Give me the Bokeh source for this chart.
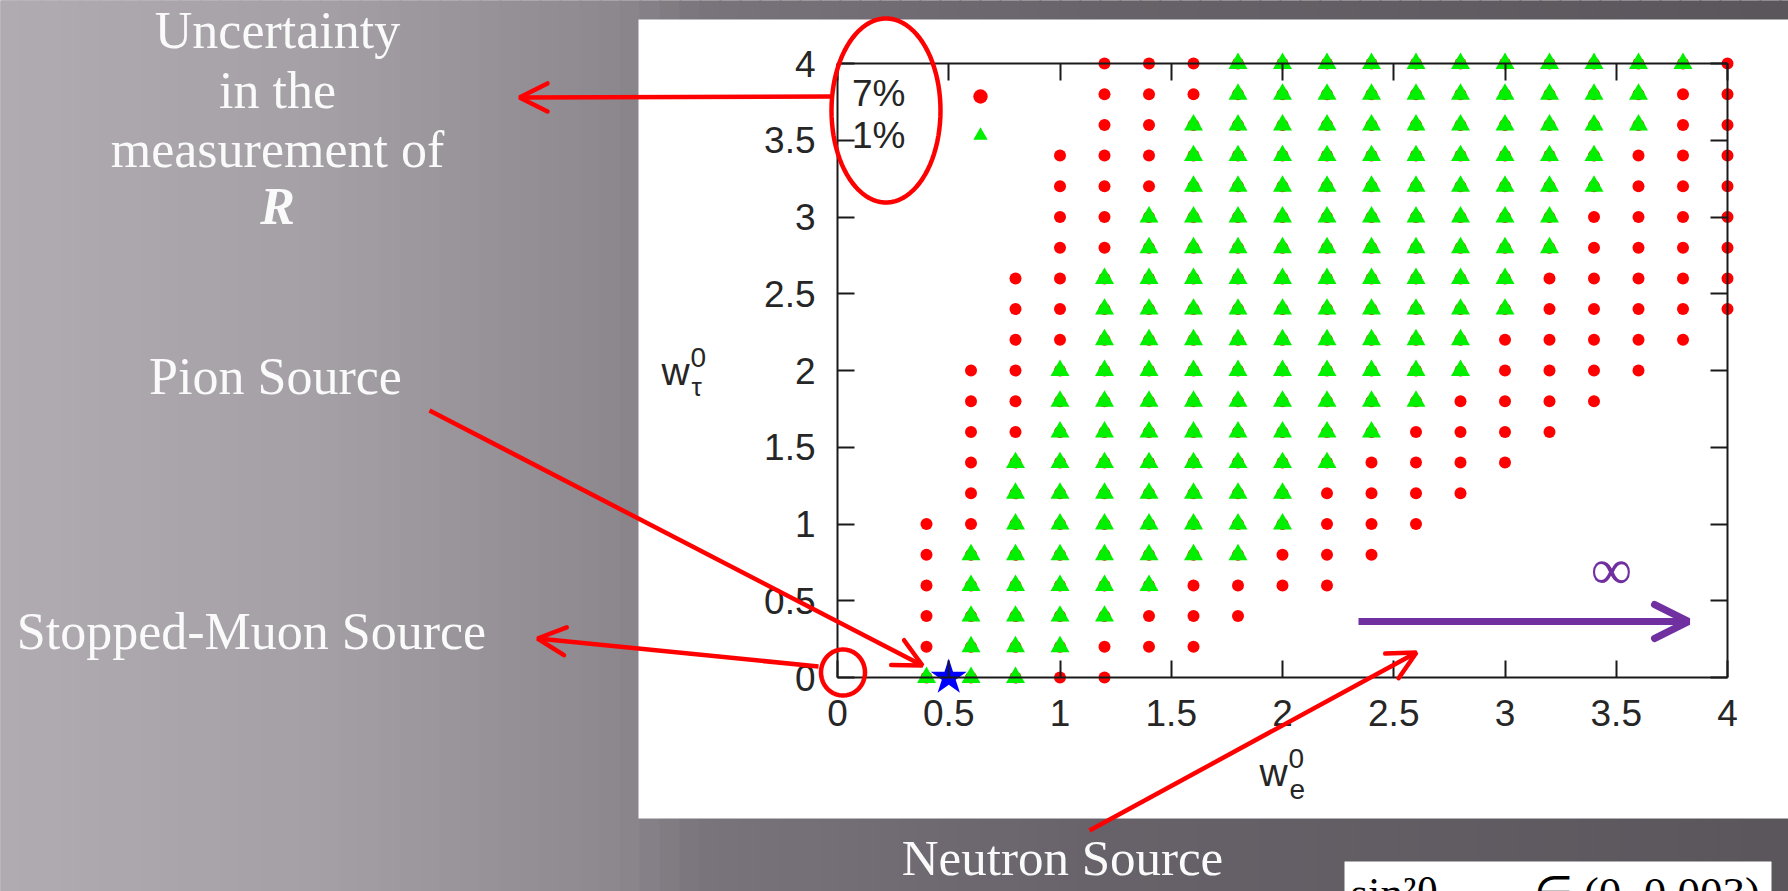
import numpy as np
from bokeh.plotting import figure
from bokeh.models import (Range1d, LinearAxis, FixedTicker, Label, Arrow, OpenHead,
                          BoxAnnotation, PolyAnnotation, Legend, LegendItem)
from bokeh.embed import file_html
from bokeh.resources import INLINE

# ---------------- data ----------------
# grid scan in (w_e^0, w_tau^0), step 0.2; per row of w_tau^0 the span of
# allowed points at 7% (red) and at 1% (green) uncertainty
grid_step = 0.2
w_tau_rows = [4.0, 3.8, 3.6, 3.4, 3.2, 3.0, 2.8, 2.6, 2.4, 2.2, 2.0,
              1.8, 1.6, 1.4, 1.2, 1.0, 0.8, 0.6, 0.4, 0.2, 0.0]
red_from = [1.2, 1.2, 1.2, 1.0, 1.0, 1.0, 1.0, 0.8, 0.8, 0.8, 0.6,
            0.6, 0.6, 0.6, 0.6, 0.4, 0.4, 0.4, 0.4, 0.4, 0.4]
red_to = [4.0, 4.0, 4.0, 4.0, 4.0, 4.0, 4.0, 4.0, 4.0, 3.8, 3.6,
          3.4, 3.2, 3.0, 2.8, 2.6, 2.4, 2.2, 1.8, 1.6, 1.2]
green_from = [1.8, 1.8, 1.6, 1.6, 1.6, 1.4, 1.4, 1.2, 1.2, 1.2, 1.0,
              1.0, 1.0, 0.8, 0.8, 0.8, 0.6, 0.6, 0.6, 0.6, 0.4]
green_to = [3.8, 3.6, 3.6, 3.4, 3.4, 3.2, 3.2, 3.0, 3.0, 2.8, 2.8,
            2.6, 2.4, 2.2, 2.0, 2.0, 1.8, 1.4, 1.2, 1.0, 0.8]
legend_labels = ["7%", "1%"]
pion_w_e = [0.5]
pion_w_tau = [0.0]

x_ticks = [0, 0.5, 1, 1.5, 2, 2.5, 3, 3.5, 4]
x_tick_labels = ["0", "0.5", "1", "1.5", "2", "2.5", "3", "3.5", "4"]
y_ticks = [0, 0.5, 1, 1.5, 2, 2.5, 3, 3.5, 4]
y_tick_labels = ["0", "0.5", "1", "1.5", "2", "2.5", "3", "3.5", "4"]


def cells(lo, hi, step):
    n = int(round((hi - lo) / step)) + 1
    return [round(lo + i * step, 1) for i in range(n)]


red_x, red_y, green_x, green_y = [], [], [], []
for wt, a, b, c, d in zip(w_tau_rows, red_from, red_to, green_from, green_to):
    for we in cells(a, b, grid_step):
        red_x.append(we); red_y.append(wt)
    for we in cells(c, d, grid_step):
        green_x.append(we); green_y.append(wt)

# ---------------- layout: the frame is the whole slide ----------------
W, H = 1788, 891
X0, X4, Y0, Y4 = 837, 1727, 677, 63           # data 0 and 4 in canvas px
ppx = (X4 - X0) / 4.0
ppy = (Y0 - Y4) / 4.0
x_range = Range1d(-X0 / ppx, 4 + (W - X4) / ppx)
y_range = Range1d(-(H - Y0) / ppy, 4 + Y4 / ppy)

p = figure(width=W, height=H, x_range=x_range, y_range=y_range,
           output_backend="svg", toolbar_location=None, title=None,
           x_axis_location=None, y_axis_location=None, min_border=0)
p.outline_line_color = None
p.background_fill_color = "#8a868c"
p.border_fill_color = "#8a868c"
p.xgrid.grid_line_color = None
p.ygrid.grid_line_color = None


def sx(X):
    return X


def sy(Y):
    return H - Y


def box(left, top, right, bottom, color, level):
    p.add_layout(BoxAnnotation(left=sx(left), right=sx(right), top=sy(top), bottom=sy(bottom),
                               left_units="screen", right_units="screen",
                               top_units="screen", bottom_units="screen",
                               fill_color=color, fill_alpha=1.0, line_alpha=0, level=level))


# slide background (gray gradient) and white picture panel
bg_x = [0, 320, 620, 700, 1100, 1788]
bg_r = [176, 164, 140, 122, 104, 90]
bg_g = [172, 160, 136, 117, 99, 86]
bg_b = [178, 166, 142, 124, 106, 92]
step = 20
for x0 in range(0, W, step):
    xc = x0 + step / 2
    col = "#%02x%02x%02x" % (int(np.interp(xc, bg_x, bg_r)),
                             int(np.interp(xc, bg_x, bg_g)),
                             int(np.interp(xc, bg_x, bg_b)))
    box(x0 - 1, -5, x0 + step + 1, H + 5, col, "image")

box(638, 19, W + 5, 818, "white", "underlay")
box(1344, 861, 1771, H + 10, "white", "underlay")

# ---------------- glyphs ----------------
r_red = p.scatter(red_x, red_y, marker="circle", size=12, fill_color="#ff0000", line_color=None)
r_green = p.scatter(green_x, green_y, marker="triangle", size=19, fill_color="#00f000", line_color=None)
p.scatter(pion_w_e, pion_w_tau, marker="star", size=38, fill_color="#0000ff", line_color=None)

# ---------------- axes (gnuplot style box with inward mirrored ticks) ----------------
TICK_FONT = "Liberation Sans"
ax_b = LinearAxis()
ax_t = LinearAxis()
ax_l = LinearAxis()
ax_r = LinearAxis()
p.add_layout(ax_b, "below")
p.add_layout(ax_t, "above")
p.add_layout(ax_l, "left")
p.add_layout(ax_r, "right")


def overrides(ticks, labels):
    return {(int(t) if float(t).is_integer() else t): s for t, s in zip(ticks, labels)}


for ax, loc, ticks, labels, show, standoff in [
        (ax_b, 0, x_ticks, x_tick_labels, True, 22),
        (ax_t, 4, x_ticks, x_tick_labels, False, 5),
        (ax_l, 0, y_ticks, y_tick_labels, True, 22),
        (ax_r, 4, y_ticks, y_tick_labels, False, 5)]:
    ax.fixed_location = loc
    ax.bounds = (0, 4)
    ax.ticker = FixedTicker(ticks=ticks)
    ax.major_label_overrides = overrides(ticks, labels)
    ax.axis_line_color = "#1a1a1a"
    ax.axis_line_width = 2
    ax.major_tick_line_color = "#1a1a1a"
    ax.major_tick_line_width = 2
    ax.major_tick_in = 17
    ax.major_tick_out = 0
    ax.minor_tick_line_color = None
    ax.major_label_standoff = standoff
    if show:
        ax.major_label_text_font = TICK_FONT
        ax.major_label_text_font_size = "37px"
        ax.major_label_text_color = "#262626"
    else:
        ax.major_label_text_font_size = "0px"
        ax.major_label_text_alpha = 0

# ---------------- legend (text left, sample right, like gnuplot) ----------------
leg_text = Legend(items=[LegendItem(label=legend_labels[0], renderers=[r_red]),
                         LegendItem(label=legend_labels[1], renderers=[r_green])],
                  location=(852, H - 157), glyph_width=0, glyph_height=38,
                  label_height=38, label_standoff=0, spacing=0, padding=0, margin=0,
                  border_line_color=None, background_fill_alpha=0,
                  label_text_font=TICK_FONT, label_text_font_size="37px",
                  label_text_color="#262626")
leg_mark = Legend(items=[LegendItem(label=legend_labels[0], renderers=[r_red]),
                         LegendItem(label=legend_labels[1], renderers=[r_green])],
                  location=(962, H - 154), glyph_width=36, glyph_height=38,
                  label_height=38, label_width=0, label_standoff=0, spacing=1, padding=0, margin=0,
                  border_line_color=None, background_fill_alpha=0,
                  label_text_font_size="8px", label_text_alpha=0)
p.add_layout(leg_text)
p.add_layout(leg_mark)


# ---------------- text ----------------
def label(text, X, Y, size_px, color="white", font="Liberation Serif", align="center",
          baseline="alphabetic", style="normal"):
    # Y is the wanted baseline in canvas px; the svg text sits ~0.27 em low
    Yc = Y - 0.27 * size_px if baseline == "alphabetic" else Y
    p.add_layout(Label(x=sx(X), y=sy(Yc), x_units="screen", y_units="screen", text=text,
                       text_font=font, text_font_size="%dpx" % size_px, text_color=color,
                       text_align=align, text_baseline=baseline, text_font_style=style))


SLIDE = "#fafafa"
label("Uncertainty", 277, 44, 52, SLIDE)
label("in the", 277, 104, 52, SLIDE)
label("measurement of", 277, 163, 52, SLIDE)
label("R", 277, 220, 52, SLIDE, style="bold italic")
label("Pion Source", 275, 390, 52, SLIDE)
label("Stopped-Muon Source", 251, 645, 52, SLIDE)
label("Neutron Source", 1062, 871, 51, SLIDE)

# axis titles w_tau^0 and w_e^0
AX = "#262626"
label("w", 661, 382, 39, AX, font=TICK_FONT, align="left")
label("0", 690, 365, 28, AX, font=TICK_FONT, align="left")
label("τ", 691, 394, 26, AX, font=TICK_FONT, align="left")
label("w", 1259, 783, 39, AX, font=TICK_FONT, align="left")
label("0", 1288, 766, 28, AX, font=TICK_FONT, align="left")
label("e", 1289, 797, 28, AX, font=TICK_FONT, align="left")

# infinity sign and cut-off formula box (cut by the slide edge, as in the picture)
label("∞", 1611, 569, 58, "#7030a0", baseline="middle")
label("sin²θ₁₃", 1350, 905, 45, "black", align="left")
label("∈ (0, 0.003)", 1533, 905, 45, "black", align="left")

# ---------------- arrows and ellipses ----------------
RED = "#ff0000"


def arrow(X1, Y1, X2, Y2, color=RED, width=4.5, head=28):
    p.add_layout(Arrow(x_start=sx(X1), y_start=sy(Y1), x_end=sx(X2), y_end=sy(Y2),
                       start_units="screen", end_units="screen",
                       line_color=color, line_width=width,
                       end=OpenHead(size=head, line_color=color, line_width=width,
                                    line_cap="round")))


arrow(832, 96, 519, 97)
arrow(429, 410, 922, 665)
arrow(818, 666, 537, 638)
arrow(1089, 830, 1416, 652)
arrow(1358, 621, 1688, 621, color="#7030a0", width=7, head=34)


def ellipse(cx, cy, rx, ry):
    t = np.linspace(0, 2 * np.pi, 90, endpoint=False)
    p.add_layout(PolyAnnotation(xs=list(sx(cx + rx * np.cos(t))), ys=list(sy(cy + ry * np.sin(t))),
                                xs_units="screen", ys_units="screen",
                                fill_alpha=0, line_color=RED, line_alpha=1.0, line_width=4.5))


ellipse(885.5, 110, 54.5, 92)
ellipse(842.5, 672, 22, 23)

open("out.html", "w").write(file_html(p, INLINE))
